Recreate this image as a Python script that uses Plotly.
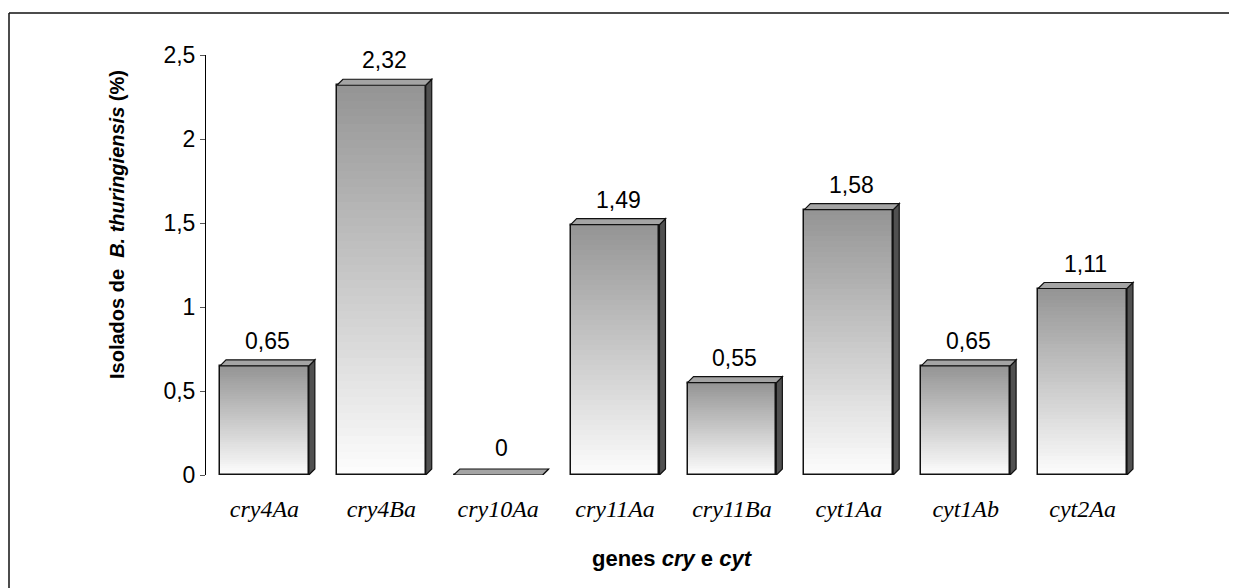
import plotly.graph_objects as go

# ---- data ----
categories = ["cry4Aa", "cry4Ba", "cry10Aa", "cry11Aa", "cry11Ba", "cyt1Aa", "cyt1Ab", "cyt2Aa"]
values = [0.65, 2.32, 0.0, 1.49, 0.55, 1.58, 0.65, 1.11]
y_tickvals = [0, 0.5, 1, 1.5, 2, 2.5]
y_ticktext = ["0", "0,5", "1", "1,5", "2", "2,5"]

# ---- layout geometry ----
W, H = 1237, 588
ML, MR, MT, MB = 198, 104, 47, 121
plot_w = W - ML - MR
plot_h = H - MT - MB
YMAX = 2.5
n = len(categories)
px_per_cat = plot_w / n
px_per_unit = plot_h / YMAX
bar_w = 0.76
dx = 6 / px_per_cat      # 3D depth, horizontal
dy = 6 / px_per_unit     # 3D depth, vertical

fig = go.Figure()

# gradient front faces (overlay slices: white at bottom -> gray at top)
N = 50
top_rgb = (0x94, 0x94, 0x94)
bot_rgb = (0xFD, 0xFD, 0xFD)
for k in range(N):
    t = (k + 0.5) / N
    c = tuple(round(b * (1 - t) + tp * t) for b, tp in zip(bot_rgb, top_rgb))
    bases = [v * k / N for v in values]
    heights = [v - b for v, b in zip(values, bases)]
    fig.add_trace(go.Bar(
        x=list(range(n)), y=heights, base=bases, width=bar_w,
        marker=dict(color="rgb(%d,%d,%d)" % c, line=dict(width=0)),
        hoverinfo="skip", showlegend=False,
    ))

# outline of front faces
fig.add_trace(go.Bar(
    x=list(range(n)), y=values, width=bar_w,
    marker=dict(color="rgba(0,0,0,0)", line=dict(color="#111", width=1.5)),
    hoverinfo="skip", showlegend=False,
))

# side & top faces
for i, v in enumerate(values):
    x0 = i - bar_w / 2
    x1 = i + bar_w / 2
    side = f"M {x1},0 L {x1+dx},{dy} L {x1+dx},{v+dy} L {x1},{v} Z"
    top = f"M {x0},{v} L {x0+dx},{v+dy} L {x1+dx},{v+dy} L {x1},{v} Z"
    fig.add_shape(type="path", path=side, xref="x", yref="y",
                  fillcolor="#505050", line=dict(color="#111", width=1.2), layer="above")
    fig.add_shape(type="path", path=top, xref="x", yref="y",
                  fillcolor="#a4a4a4", line=dict(color="#111", width=1.2), layer="above")
    label = "0" if v == 0 else f"{v:.2f}".replace(".", ",")
    fig.add_annotation(x=i + dx / 2, y=v + dy, xref="x", yref="y", text=label,
                       showarrow=False, yanchor="bottom", yshift=6 if v == 0 else 4,
                       font=dict(family="Liberation Sans, Arial", size=23, color="#000"))

# partial border (top & left edges)
bx = (1 - ML) / plot_w
by = (H - MB - 5) / plot_h
fig.add_shape(type="line", xref="paper", yref="paper", x0=bx, x1=2, y0=by, y1=by,
              line=dict(color="#111", width=1.5))
fig.add_shape(type="line", xref="paper", yref="paper", x0=bx, x1=bx, y0=by, y1=-2,
              line=dict(color="#111", width=1.5))

# axis titles
fig.add_annotation(xref="paper", yref="paper", x=(109 - ML) / plot_w, y=(H - MB - 217) / plot_h,
                   xanchor="center", yanchor="middle",
                   text="Isolados de&nbsp;&nbsp;<i>B. thuringiensis</i> (%)", textangle=-90, showarrow=False,
                   font=dict(family="Liberation Sans, Arial", size=20, color="#000", weight="bold"))
fig.add_annotation(xref="paper", yref="paper", x=(664 - ML) / plot_w, y=(H - MB - 550) / plot_h,
                   xanchor="center", yanchor="middle",
                   text="genes <i>cry</i> e <i>cyt</i>", showarrow=False,
                   font=dict(family="Liberation Sans, Arial", size=22, color="#000", weight="bold"))

fig.update_layout(
    width=W, height=H,
    margin=dict(l=ML, r=MR, t=MT, b=MB, autoexpand=False),
    paper_bgcolor="white", plot_bgcolor="white",
    barmode="overlay", bargap=0,
    xaxis=dict(range=[-0.5, n - 0.5], tickmode="array", tickvals=list(range(n)), ticktext=categories,
               showline=False, showgrid=False, zeroline=False, ticks="",
               ticklabelstandoff=17,
               tickfont=dict(family="Liberation Serif, Times New Roman", size=24, color="#000", style="italic")),
    yaxis=dict(range=[0, YMAX], tickmode="array", tickvals=y_tickvals, ticktext=y_ticktext,
               showline=True, linecolor="#000", linewidth=1, ticks="outside", ticklen=5,
               tickcolor="#555", showgrid=False, zeroline=False,
               tickfont=dict(family="Liberation Sans, Arial", size=23, color="#000")),
)

fig.write_html("out.html")
